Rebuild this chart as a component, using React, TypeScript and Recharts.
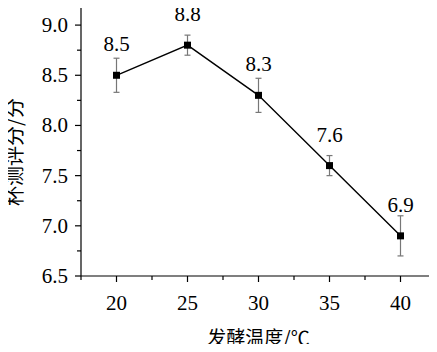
import React from 'react';
import { LineChart, Line, XAxis, YAxis, ErrorBar, LabelList } from 'recharts';

const temps = [20, 25, 30, 35, 40];
const scores = [8.5, 8.8, 8.3, 7.6, 6.9];
const errors = [0.17, 0.1, 0.17, 0.1, 0.2];

const xTicks = [17.5, 20, 22.5, 25, 27.5, 30, 32.5, 35, 37.5, 40, 42.5];
const yTicks = [6.5, 6.75, 7, 7.25, 7.5, 7.75, 8, 8.25, 8.5, 8.75, 9];

const data = temps.map((t, i) => ({ temp: t, score: scores[i], err: errors[i] }));

const css = `
.cup-chart text { font-family: "Liberation Serif", "Noto Sans CJK SC", serif !important; }
.cup-chart text.cjk { font-family: "Noto Sans CJK SC", sans-serif !important; }
`;

function XTick(props: any) {
  const { x, y, payload } = props;
  const major = payload.value % 5 === 0;
  return (
    <g>
      <line x1={x} x2={x} y1={y} y2={y + (major ? 6 : 4)} stroke="#000" strokeWidth={1.2} />
      {major && (
        <text x={x} y={y + 34} textAnchor="middle" fontSize={21} fill="#000">
          {payload.value}
        </text>
      )}
    </g>
  );
}

function YTick(props: any) {
  const { x, y, payload } = props;
  const major = Math.abs(payload.value * 2 - Math.round(payload.value * 2)) < 1e-6;
  return (
    <g>
      <line x1={x - (major ? 6 : 4)} x2={x} y1={y} y2={y} stroke="#000" strokeWidth={1.2} />
      {major && (
        <text x={x - 13} y={y + 7} textAnchor="end" fontSize={21} fill="#000">
          {payload.value.toFixed(1)}
        </text>
      )}
    </g>
  );
}

function SquareDot(props: any) {
  const { cx, cy } = props;
  return <rect x={cx - 3.5} y={cy - 3.5} width={7} height={7} fill="#000" />;
}

function PointLabel(props: any) {
  const { x, y, value } = props;
  return (
    <text x={x} y={y - 24} textAnchor="middle" fontSize={21} fill="#000">
      {Number(value).toFixed(1)}
    </text>
  );
}

export default function App() {
  return (
    <div className="cup-chart" style={{ margin: -8, width: 437, height: 352, background: '#fff' }}>
      <style>{css}</style>
      <LineChart width={437} height={352} data={data} margin={{ top: 0, right: 1, bottom: 0, left: 0 }}>
        <XAxis
          dataKey="temp"
          type="number"
          domain={[17.5, 42.5]}
          ticks={xTicks}
          interval={0}
          height={76}
          tickSize={0}
          tickMargin={0}
          tick={<XTick />}
          axisLine={{ stroke: '#000', strokeWidth: 1.2 }}
          label={() => (
            <text className="cjk" x={258.5} y={345} textAnchor="middle" fontSize={19} fill="#000">
              发酵温度/℃
            </text>
          )}
        />
        <YAxis
          type="number"
          domain={[6.5, 9.25]}
          ticks={yTicks}
          interval={0}
          width={81}
          tickSize={0}
          tickMargin={0}
          tick={<YTick />}
          axisLine={{ stroke: '#000', strokeWidth: 1.2 }}
          label={() => (
            <text
              className="cjk"
              x={13}
              y={152}
              transform="rotate(-90, 13, 152)"
              textAnchor="middle"
              dominantBaseline="central"
              fontSize={20}
              fill="#000"
            >
              杯测评分/分
            </text>
          )}
        />
        <Line
          dataKey="score"
          stroke="#000"
          strokeWidth={1.4}
          dot={<SquareDot />}
          activeDot={false}
          isAnimationActive={false}
        >
          <ErrorBar dataKey="err" width={3} stroke="#777" strokeWidth={1.2} direction="y" isAnimationActive={false} />
          <LabelList dataKey="score" content={<PointLabel />} />
        </Line>
      </LineChart>
    </div>
  );
}
